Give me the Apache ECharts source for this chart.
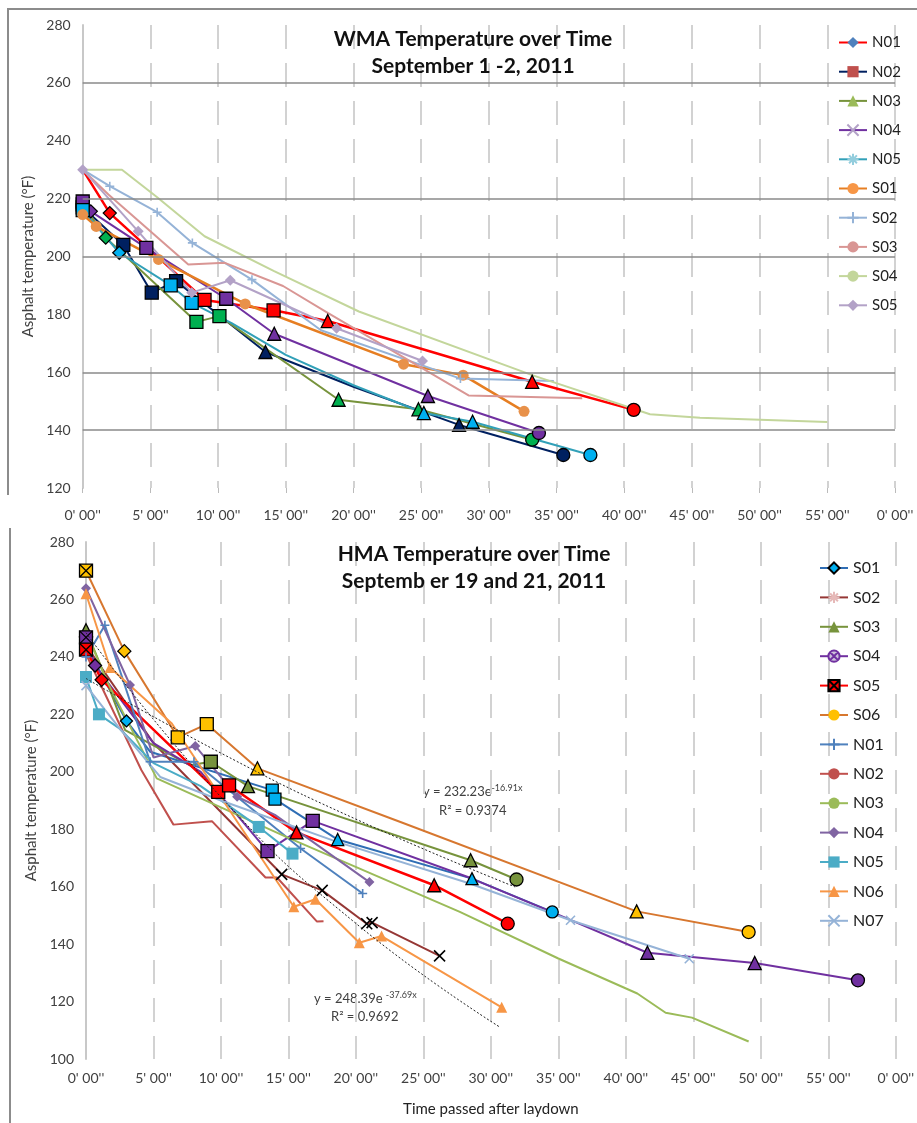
<!DOCTYPE html>
<html>
<head>
<meta charset="utf-8">
<script src="https://cdn.jsdelivr.net/npm/echarts@6/dist/echarts.min.js"></script>
<style>
  html, body { margin: 0; padding: 0; background: #fff; }
  #chart { width: 917px; height: 1123px; }
</style>
</head>
<body>
<div id="chart"></div>
<script>
// Eje X: minutos desde el extendido, etiquetas como en la hoja original
const tickLabels = ["0' 00''", "5' 00''", "10' 00''", "15' 00''", "20' 00''", "25' 00''",
  "30' 00''", "35' 00''", "40' 00''", "45' 00''", "50' 00''", "55' 00''", "0' 00''"];
const topRows = [260, 220, 200, 160, 140];

// ---- WMA (1-2 septiembre) [minuto, °F]
const wmaN01 = [[0,230],[2.0,215],[4.7,203.5],[9.0,185],[14.1,181.4],[18.1,177.7],[33.2,156.7],[40.7,147]];
const wmaN02 = [[0,217],[3.0,204],[5.1,187.5],[6.9,191.5],[13.5,167],[20,155],[27.8,141.8],[35.5,131.4]];
const wmaN03 = [[0,218],[1.7,206.5],[8.4,177.4],[10.1,179.4],[18.9,150.5],[24.8,147.2],[33.2,136.7]];
const wmaN04 = [[0,219],[0.6,215.6],[4.7,203],[10.6,185.4],[14.15,173.3],[25.5,151.8],[33.7,139]];
const wmaN05 = [[0,216],[2.7,201.3],[6.5,190],[8.05,184],[11,177],[15,166],[20,155.5],[25.2,145.9],[28.8,142.9],[37.5,131.4]];
const wmaS01 = [[0,214.5],[1.0,210.4],[5.6,199],[12.0,183.6],[23.7,162.8],[28.1,159],[32.6,146.5]];
const wmaS02 = [[0,230],[2.0,224.3],[5.5,215.3],[8.1,204.7],[12.5,192],[17.6,174.5],[27.9,157.8],[34.8,157]];
const wmaS03 = [[0,230],[1.9,221.4],[7.8,197.2],[10.5,197.8],[14.8,189.8],[18.1,180.5],[28.5,152],[36.9,151]];
const wmaS04 = [[0,230],[2.9,230],[5.5,220.5],[9.0,207],[14.1,195],[20.4,181],[33.2,159],[41.9,145.5],[45.6,144.3],[55,142.8]];
const wmaS05 = [[0,230],[4.1,208.7],[8.05,187.5],[10.9,191.8],[18.75,175.2],[25.1,163.9]];

// ---- HMA (19 y 21 septiembre)
const hmaS01 = [[0,244],[3.0,217.7],[4.75,207],[13.8,193.6],[14.0,190.5],[18.65,176.4],[28.6,162.8],[34.55,151.2]];
const hmaS02 = [[0,244],[5.0,210],[14.5,164.3],[17.5,158.7],[20.8,147.1],[21.2,147.5],[26.2,135.9]];
const hmaS03 = [[0,249.3],[1.0,238],[2.9,214.5],[7.7,202.3],[9.25,203.5],[12.0,195],[28.5,169.2],[31.9,162.5]];
const hmaS04 = [[0,246.8],[0.67,237],[5.0,210],[8.5,200],[13.45,172.4],[16.8,182.9],[28.5,163],[34.5,151.2],[41.6,137],[49.55,133.4],[57.2,127.4]];
const hmaS05 = [[0,242.5],[1.16,232],[9.8,193],[10.6,195.3],[15.6,178.9],[25.8,160.5],[31.25,147.1]];
const hmaS06 = [[0,270],[2.84,242],[6.8,212],[8.95,216.6],[12.7,201.2],[23.3,182.5],[40.8,151.4],[49.1,144.2]];
const hmaN01 = [[0,240],[1.4,251],[4.75,203.5],[8.0,203.5],[15.9,173.3],[20.5,157.6]];
const hmaN02 = [[0,241],[4.1,200.6],[6.48,181.6],[9.33,182.8],[13.3,163.2],[14.15,163.2],[17.1,147.9],[17.6,148]];
const hmaN03 = [[0,249],[1.5,232],[5.24,197.7],[15,177],[27.7,151.2],[35,135],[40.85,122.8],[42.95,116.1],[44.9,114.4],[49.1,106.1]];
const hmaN04 = [[0,263.9],[3.26,230.2],[5.0,205],[8.1,209],[11.2,191.3],[14,185],[21.0,161.6]];
const hmaN05 = [[0,233],[0.96,220],[2.5,215],[5,203],[8.5,195],[12.8,180.8],[15.3,171.5]];
const hmaN06 = [[0,262],[1.78,236.3],[6.36,216.8],[15.4,153],[17.0,155.6],[20.25,140.5],[21.9,142.8],[30.8,118]];
const hmaN07 = [[0,230],[2.5,215],[5.5,198.2],[10,190],[18.6,175.6],[28.5,161],[35.9,148.3],[44.7,134.9]];

// líneas de tendencia
const trendA = [[0,232.5],[10,206.5],[20,183.5],[31.8,159.9]];
const trendB = [[0,248.4],[10,191.2],[20,147.2],[30.7,111]];

// ---- estilos: forma de marcador por punto (- sin marcador)
const PATHS = {
    x: 'path://M0,0L10,10M10,0L0,10',
    p: 'path://M5,0V10M0,5H10',
    '*': 'path://M5,0V10M0,5H10M1.5,1.5L8.5,8.5M8.5,1.5L1.5,8.5',
    X: 'path://M0,0H10V10H0ZM0,0L10,10M10,0L0,10',
    o: 'path://M10,5A5,5,0,1,1,0,5A5,5,0,1,1,10,5ZM1.5,1.5L8.5,8.5M8.5,1.5L1.5,8.5'
};
const SHAPES = {d: 'diamond', s: 'rect', t: 'triangle', c: 'circle', '-': 'none'};
const STROKED = ['x', 'p', '*'];
const sym = c => SHAPES[c] || PATHS[c];

const wmaDefs = [
    ['N01', wmaN01, '-d-ssttc',   {line:'#FF0000', w:2.5, fill:'#FF0000', edge:'#000', size:13, leg:['d','#4F81BD']}],
    ['N02', wmaN02, 'sssst-tc',   {line:'#002060', w:2, fill:'#002060', edge:'#000', size:13, leg:['s','#C0504D']}],
    ['N03', wmaN03, 'sdssttc',    {line:'#77933C', w:2, fill:'#00B050', edge:'#000', size:13, leg:['t','#9BBB59']}],
    ['N04', wmaN04, 'sdssttc',    {line:'#7030A0', w:2, fill:'#7030A0', edge:'#000', size:13, leg:['x','#B3A2C7']}],
    ['N05', wmaN05, 'sdss---ttc', {line:'#31A0B8', w:2, fill:'#00B0F0', edge:'#000', size:13, leg:['*','#93CDDD']}],
    ['S01', wmaS01, 'ccccccc',    {line:'#E67E22', w:2.5, fill:'#E8914A', edge:null, size:11, leg:['c','#F79646']}],
    ['S02', wmaS02, '-pppp-p-',   {line:'#95B3D7', w:2, fill:'#95B3D7', edge:null, size:9, leg:['p','#95B3D7']}],
    ['S03', wmaS03, '--------',   {line:'#D99694', w:2, fill:'#D99694', edge:null, size:8, leg:['-','#D99694']}],
    ['S04', wmaS04, '----------', {line:'#C3D69B', w:2, fill:'#C3D69B', edge:null, size:8, leg:['-','#C3D69B']}],
    ['S05', wmaS05, 'dddddd',     {line:'#B3A2C7', w:2, fill:'#B3A2C7', edge:null, size:11, leg:['d','#B3A2C7']}]
];

const hmaDefs = [
    ['S01', hmaS01, 'dd-ssttc',    {line:'#2F6EB5', w:2, fill:'#00B0F0', edge:'#000', size:12, leg:['d','#00B0F0','#000']}],
    ['S02', hmaS02, '--xxxxx',     {line:'#953735', w:2, fill:'#000', edge:null, size:11, leg:['*','#E6B9B8']}],
    ['S03', hmaS03, 't---sttc',    {line:'#77933C', w:2, fill:'#77933C', edge:'#000', size:13, leg:['t','#77933C']}],
    ['S04', hmaS04, 'Xd--ss--ttc', {line:'#7030A0', w:2, fill:'#7030A0', edge:'#000', size:13, leg:['o','#CCC0DA','#7030A0']}],
    ['S05', hmaS05, 'Xdssttc',     {line:'#FF0000', w:2.5, fill:'#FF0000', edge:'#000', size:13, leg:['X','#FF0000','#000']}],
    ['S06', hmaS06, 'Xdsst-tc',    {line:'#D7772F', w:2, fill:'#FFC000', edge:'#000', size:13, leg:['c','#FFC000']}],
    ['N01', hmaN01, 'pppppp',      {line:'#4F81BD', w:2, fill:'#4F81BD', edge:null, size:9, leg:['p','#4F81BD']}],
    ['N02', hmaN02, '--------',    {line:'#C0504D', w:2, fill:'#C0504D', edge:null, size:8, leg:['-','#C0504D']}],
    ['N03', hmaN03, '----------',  {line:'#9BBB59', w:2, fill:'#9BBB59', edge:null, size:8, leg:['-','#9BBB59']}],
    ['N04', hmaN04, 'dd-dd-d',     {line:'#8064A2', w:2, fill:'#8064A2', edge:null, size:10, leg:['d','#8064A2']}],
    ['N05', hmaN05, 'ss---ss',     {line:'#4BACC6', w:2, fill:'#4BACC6', edge:null, size:12, leg:['s','#4BACC6']}],
    ['N06', hmaN06, 'tt-ttttt',    {line:'#F79646', w:2, fill:'#F79646', edge:null, size:11, leg:['t','#F79646']}],
    ['N07', hmaN07, 'x-----xx',    {line:'#95B3D7', w:2, fill:'#95B3D7', edge:null, size:9, leg:['x','#95B3D7']}]
];

function pointStyle(code, fill, edge) {
    if (STROKED.includes(code)) return {color: fill, borderColor: fill, borderWidth: 1.6};
    if (edge) return {color: fill, borderColor: edge, borderWidth: 1.3};
    return {color: fill, borderWidth: 0};
}

function buildSeries(prefix, idx, defs) {
    return defs.map(([name, pts, marks, st]) => {
        const [lc, lcol, ledge] = st.leg;
        const legStyle = STROKED.includes(lc)
            ? {color: lcol, borderColor: lcol, borderWidth: 1.5}
            : {color: lcol, borderColor: ledge || lcol, borderWidth: ledge ? 1 : 0};
        return {
            name: prefix + name,
            type: 'line',
            xAxisIndex: idx,
            yAxisIndex: idx,
            symbol: sym(lc),
            symbolSize: 9,
            itemStyle: legStyle,
            lineStyle: {color: st.line, width: st.w},
            emphasis: {disabled: true},
            data: pts.map((p, i) => {
                const c = marks[i] || '-';
                return {
                    value: p,
                    symbol: sym(c),
                    symbolSize: st.size,
                    itemStyle: pointStyle(c, st.fill, st.edge)
                };
            })
        };
    });
}

function trendSeries(pts) {
    return {
        type: 'line', xAxisIndex: 1, yAxisIndex: 1, smooth: true,
        symbol: 'none', silent: true, z: 5,
        lineStyle: {color: '#222', width: 1, type: [2, 2]},
        data: pts
    };
}

const axisFont = {fontFamily: 'Lato', fontSize: 14, color: '#404040'};

function xAxis(idx, margin, name) {
    return {
        type: 'value', gridIndex: idx, min: 0, max: 60, interval: 5,
        name: name, nameLocation: 'middle', nameGap: 43,
        nameTextStyle: {fontFamily: 'Lato', fontSize: 15, color: '#222'},
        axisLine: {show: false},
        axisTick: {show: idx === 0, length: 5, lineStyle: {color: '#bbb'}},
        axisLabel: Object.assign({margin: margin, formatter: v => tickLabels[Math.round(v / 5)]}, axisFont),
        splitLine: {show: true, lineStyle: {color: '#d2d2d2', width: 2, type: [24, 14]}}
    };
}

function yAxis(idx, min) {
    return {
        type: 'value', gridIndex: idx, min: min, max: 280, interval: 20,
        name: 'Asphalt temperature (°F)', nameLocation: 'middle', nameGap: 46,
        nameTextStyle: {fontFamily: 'Lato', fontSize: 15, color: '#404040'},
        axisLine: {show: true, lineStyle: {color: '#c8c8c8', width: 2}},
        axisTick: {show: false},
        axisLabel: Object.assign({margin: 12}, axisFont),
        splitLine: {show: false}
    };
}

const titleStyle = {fontFamily: 'Lato', fontSize: 21, fontWeight: 'bold', color: '#111', lineHeight: 27};

const myChart = echarts.init(document.getElementById('chart'));

const option = {
    animation: false,
    backgroundColor: '#fff',
    title: [
        {text: 'WMA Temperature over Time\nSeptember 1 -2, 2011', left: 468, top: 21, textAlign: 'center', textStyle: titleStyle},
        {text: 'HMA Temperature over Time\nSeptemb er 19 and 21, 2011', left: 469, top: 536, textAlign: 'center', textStyle: titleStyle}
    ],
    legend: [
        {
            orient: 'vertical', left: 833, top: 30, itemWidth: 28, itemHeight: 14, itemGap: 14.2,
            data: wmaDefs.map(d => 'WMA ' + d[0]), formatter: n => n.slice(4),
            textStyle: {fontFamily: 'Lato', fontSize: 15, color: '#222', lineHeight: 14}
        },
        {
            orient: 'vertical', left: 814, top: 555, itemWidth: 28, itemHeight: 14, itemGap: 13.4,
            data: hmaDefs.map(d => 'HMA ' + d[0]), formatter: n => n.slice(4),
            textStyle: {fontFamily: 'Lato', fontSize: 16, color: '#222', lineHeight: 14}
        }
    ],
    grid: [
        {left: 82.7, right: 22, top: 25, height: 463},
        {left: 86, right: 21, top: 542, height: 517}
    ],
    xAxis: [xAxis(0, 20, ''), xAxis(1, 12, 'Time passed after laydown')],
    yAxis: [yAxis(0, 120), yAxis(1, 100)],
    graphic: [
        {type: 'polyline', shape: {points: [[917, 9], [8, 9], [8, 495]]}, style: {stroke: '#8c8c8c', lineWidth: 2, fill: null}},
        {type: 'line', shape: {x1: 10, y1: 528, x2: 10, y2: 1123}, style: {stroke: '#8c8c8c', lineWidth: 2}},
        {type: 'text', left: 423, top: 784, style: {
            text: '{a|y = 232.23e}{s|-16.91x}',
            rich: {a: {fontFamily: 'Lato', fontSize: 13, fill: '#404040'}, s: {fontFamily: 'Lato', fontSize: 9, fill: '#404040', verticalAlign: 'top', padding: [0, 0, 6, 0]}}
        }},
        {type: 'text', left: 439, top: 804, style: {text: 'R² = 0.9374', font: '13px Lato', fill: '#404040'}},
        {type: 'text', left: 314, top: 991, style: {
            text: '{a|y = 248.39e }{s|-37.69x}',
            rich: {a: {fontFamily: 'Lato', fontSize: 13, fill: '#404040'}, s: {fontFamily: 'Lato', fontSize: 9, fill: '#404040', verticalAlign: 'top', padding: [0, 0, 6, 0]}}
        }},
        {type: 'text', left: 331, top: 1010, style: {text: 'R² = 0.9692', font: '13px Lato', fill: '#404040'}}
    ],
    series: [
        {
            type: 'line', xAxisIndex: 0, yAxisIndex: 0, data: [], silent: true, z: 1,
            markLine: {
                silent: true, symbol: 'none', label: {show: false},
                lineStyle: {color: '#8a8a8a', width: 1.5, type: 'solid'},
                data: topRows.map(v => ({yAxis: v}))
            }
        },
        ...buildSeries('WMA ', 0, wmaDefs),
        ...buildSeries('HMA ', 1, hmaDefs),
        trendSeries(trendA),
        trendSeries(trendB)
    ]
};

myChart.setOption(option);
window.addEventListener('resize', () => myChart.resize());
</script>
</body>
</html>
